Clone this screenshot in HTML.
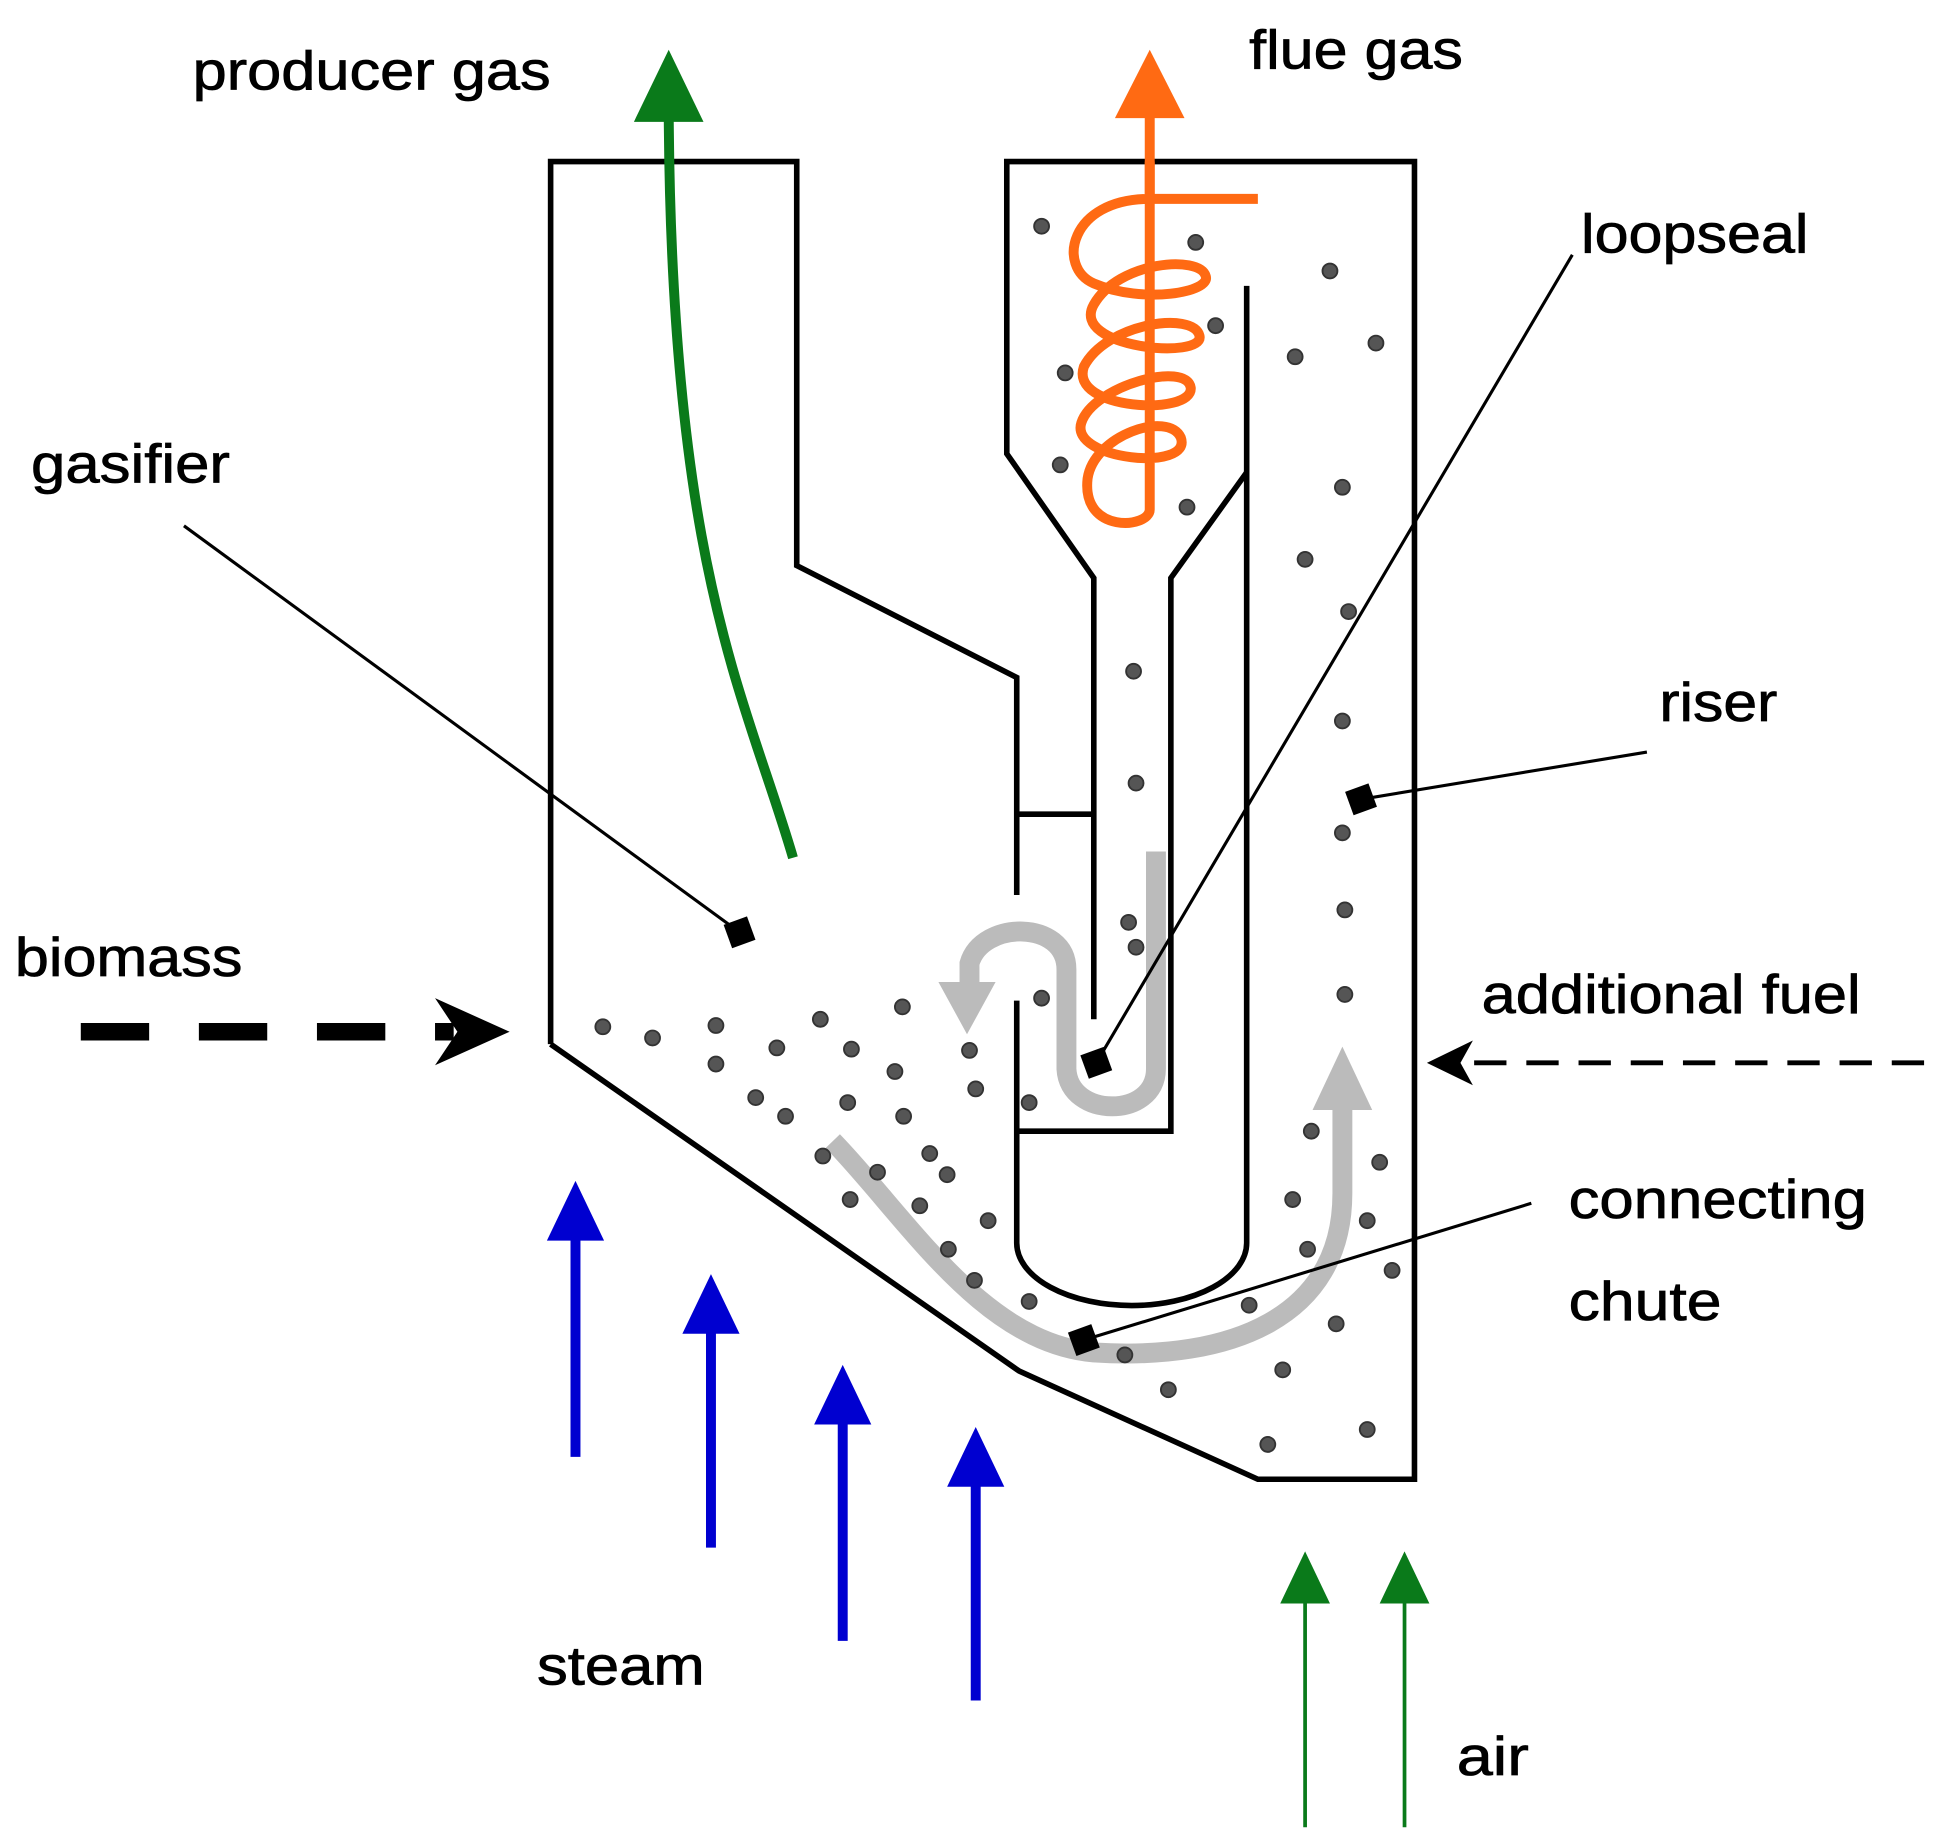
<!DOCTYPE html>
<html><head><meta charset="utf-8"><style>html,body{margin:0;padding:0;background:#fff}svg{display:block}</style></head><body>
<svg width="1939" height="1836" viewBox="0 0 1560 1477" preserveAspectRatio="none" xmlns="http://www.w3.org/2000/svg" font-family="Liberation Sans, sans-serif">
<g fill="none" stroke="#000" stroke-width="4.5" stroke-linejoin="miter">
<path d="M443,840 L443,130 L641,130 L641,455 L818,545 L818,720"/>
<path d="M818,655 L878,655"/>
<path d="M818,805 L818,1000 A92,50 0 0 0 1003,1000 L1003,230"/>
<path d="M818,910 L942,910 L942,465 L1003,380"/>
<path d="M880,820 L880,465 L810,365 L810,130 L1138,130 L1138,1190 L1012,1190 L820,1103 L443,840"/>
</g>
<g stroke="#bbb" stroke-width="16" fill="none" stroke-linecap="butt">
<path d="M670,918 C730,980 790,1080 880,1088 C990,1095 1080,1060 1080,960 L1080,890"/>
<path d="M930,685 L930,860 C930,900 860,900 858,860 L858,780 C858,740 790,740 780,775 L780,790"/>
</g>
<polygon points="1080,842 1056,893 1104,893" fill="#bbb"/>
<polygon points="778,832 755,790 801,790" fill="#bbb"/>
<g fill="#555" stroke="#333" stroke-width="1.5">
<circle cx="838" cy="182" r="6"/><circle cx="962" cy="195" r="6"/><circle cx="1070" cy="218" r="6"/><circle cx="978" cy="262" r="6"/><circle cx="1042" cy="287" r="6"/><circle cx="1107" cy="276" r="6"/><circle cx="857" cy="300" r="6"/><circle cx="853" cy="374" r="6"/><circle cx="955" cy="408" r="6"/><circle cx="1080" cy="392" r="6"/><circle cx="1050" cy="450" r="6"/><circle cx="1085" cy="492" r="6"/><circle cx="912" cy="540" r="6"/><circle cx="1080" cy="580" r="6"/><circle cx="914" cy="630" r="6"/><circle cx="1080" cy="670" r="6"/><circle cx="908" cy="742" r="6"/><circle cx="1082" cy="732" r="6"/><circle cx="914" cy="762" r="6"/><circle cx="1082" cy="800" r="6"/><circle cx="838" cy="803" r="6"/><circle cx="485" cy="826" r="6"/><circle cx="525" cy="835" r="6"/><circle cx="576" cy="825" r="6"/><circle cx="660" cy="820" r="6"/><circle cx="726" cy="810" r="6"/><circle cx="576" cy="856" r="6"/><circle cx="625" cy="843" r="6"/><circle cx="685" cy="844" r="6"/><circle cx="720" cy="862" r="6"/><circle cx="780" cy="845" r="6"/><circle cx="608" cy="883" r="6"/><circle cx="682" cy="887" r="6"/><circle cx="785" cy="876" r="6"/><circle cx="828" cy="887" r="6"/><circle cx="632" cy="898" r="6"/><circle cx="727" cy="898" r="6"/><circle cx="662" cy="930" r="6"/><circle cx="748" cy="928" r="6"/><circle cx="706" cy="943" r="6"/><circle cx="762" cy="945" r="6"/><circle cx="684" cy="965" r="6"/><circle cx="740" cy="970" r="6"/><circle cx="795" cy="982" r="6"/><circle cx="763" cy="1005" r="6"/><circle cx="784" cy="1030" r="6"/><circle cx="828" cy="1047" r="6"/><circle cx="1055" cy="910" r="6"/><circle cx="1110" cy="935" r="6"/><circle cx="1040" cy="965" r="6"/><circle cx="1100" cy="982" r="6"/><circle cx="1052" cy="1005" r="6"/><circle cx="1120" cy="1022" r="6"/><circle cx="1005" cy="1050" r="6"/><circle cx="1075" cy="1065" r="6"/><circle cx="905" cy="1090" r="6"/><circle cx="1032" cy="1102" r="6"/><circle cx="940" cy="1118" r="6"/><circle cx="1100" cy="1150" r="6"/><circle cx="1020" cy="1162" r="6"/>
</g>
<g stroke="#ff6a13" stroke-width="8" fill="none">
<path d="M925,90 L925,160 L1012,160"/>
<path d="M925,160 C860,160 850,215 880,228 C920,245 975,235 970,222 C965,205 900,210 880,245 C860,280 970,290 965,270 C960,250 890,260 872,295 C860,330 960,335 958,312 C955,290 880,310 870,340 C860,370 960,380 950,352 C940,330 880,350 875,385 C870,430 925,425 925,410 L925,130"/>
</g>
<polygon points="925,40 897,95 953,95" fill="#ff6a13"/>
<path d="M638,690 C600,560 540,460 538,90" stroke="#0a7a1a" stroke-width="8" fill="none"/>
<polygon points="538,40 510,98 566,98" fill="#0a7a1a"/>
<g stroke="#0a7a1a" stroke-width="3"><line x1="1050" y1="1285" x2="1050" y2="1470"/><line x1="1130" y1="1285" x2="1130" y2="1470"/></g>
<polygon points="1050,1248 1030,1290 1070,1290" fill="#0a7a1a"/>
<polygon points="1130,1248 1110,1290 1150,1290" fill="#0a7a1a"/>
<g stroke="#0000d0" stroke-width="8">
<line x1="463" y1="990" x2="463" y2="1172"/><line x1="572" y1="1065" x2="572" y2="1245"/><line x1="678" y1="1138" x2="678" y2="1320"/><line x1="785" y1="1188" x2="785" y2="1368"/></g>
<g fill="#0000d0">
<polygon points="463,950 440,998 486,998"/><polygon points="572,1025 549,1073 595,1073"/><polygon points="678,1098 655,1146 701,1146"/><polygon points="785,1148 762,1196 808,1196"/></g>
<line x1="65" y1="830" x2="365" y2="830" stroke="#000" stroke-width="14" stroke-dasharray="55,40"/>
<polygon points="410,830 350,803 368,830 350,857" fill="#000"/>
<line x1="1548" y1="855" x2="1180" y2="855" stroke="#000" stroke-width="4" stroke-dasharray="26,16"/>
<polygon points="1148,855 1185,837 1175,855 1185,873" fill="#000"/>
<g stroke="#000" stroke-width="2.5">
<line x1="148" y1="423" x2="595" y2="750"/><line x1="1265" y1="205" x2="882" y2="855"/><line x1="1325" y1="605" x2="1095" y2="643"/><line x1="1232" y1="968" x2="872" y2="1078"/></g>
<g fill="#000">
<rect x="585" y="740" width="20" height="20" transform="rotate(-20 595 750)"/><rect x="872" y="845" width="20" height="20" transform="rotate(-20 882 855)"/><rect x="1085" y="633" width="20" height="20" transform="rotate(-20 1095 643)"/><rect x="862" y="1068" width="20" height="20" transform="rotate(-20 872 1078)"/></g>
<g font-size="44" fill="#000" stroke="#000" stroke-width="0.6" lengthAdjust="spacingAndGlyphs">
<text x="155" y="72" textLength="288" lengthAdjust="spacingAndGlyphs">producer gas</text>
<text x="1005" y="55" textLength="172" lengthAdjust="spacingAndGlyphs">flue gas</text>
<text x="1272" y="203" textLength="183" lengthAdjust="spacingAndGlyphs">loopseal</text>
<text x="25" y="388" textLength="160" lengthAdjust="spacingAndGlyphs">gasifier</text>
<text x="1335" y="580" textLength="95" lengthAdjust="spacingAndGlyphs">riser</text>
<text x="12" y="785" textLength="183" lengthAdjust="spacingAndGlyphs">biomass</text>
<text x="1192" y="815" textLength="305" lengthAdjust="spacingAndGlyphs">additional fuel</text>
<text x="1262" y="980" textLength="240" lengthAdjust="spacingAndGlyphs">connecting</text>
<text x="1262" y="1062" textLength="123" lengthAdjust="spacingAndGlyphs">chute</text>
<text x="432" y="1355" textLength="135" lengthAdjust="spacingAndGlyphs">steam</text>
<text x="1172" y="1428" textLength="58" lengthAdjust="spacingAndGlyphs">air</text></g>
</svg>
</body></html>
